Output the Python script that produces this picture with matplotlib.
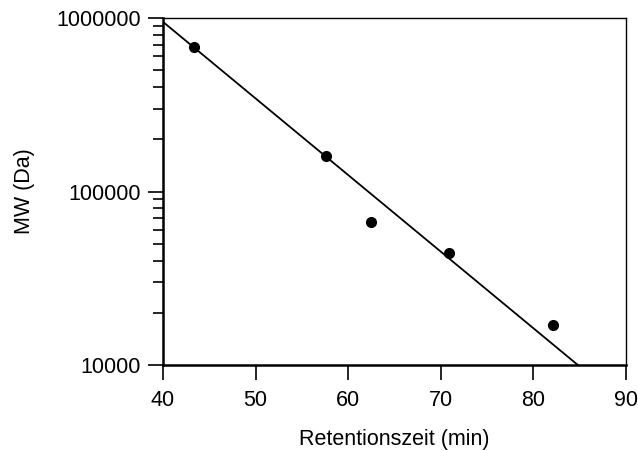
import matplotlib
matplotlib.use('Agg')
import matplotlib.pyplot as plt
from matplotlib.ticker import FixedLocator, LogLocator, NullFormatter
import numpy as np

plt.rcParams['font.family'] = ['Liberation Sans', 'DejaVu Sans']
plt.rcParams['font.size'] = 15.5

# Messpunkte (Kalibrierung)
retention = [43.3, 57.6, 62.5, 70.9, 82.1]
mw = [680000, 160000, 67000, 44000, 17000]

# Regressionsgerade (Endpunkte)
fit_x = [40, 84.8]
fit_y = [950000, 10000]

x_ticks = [40, 50, 60, 70, 80, 90]
y_ticks = [10000, 100000, 1000000]
y_ticklabels = ['10000', '100000', '1000000']

fig = plt.figure(figsize=(6.38, 4.5), dpi=100)
ax = fig.add_axes([163/638, 1 - 365/450, (626 - 163)/638, (365 - 18)/450])

ax.plot(fit_x, fit_y, color='black', lw=1.3)
ax.plot(retention, mw, 'o', color='black', ms=7)

ax.set_yscale('log')
ax.set_xlim(40, 90)
ax.set_ylim(10000, 1000000)
ax.set_xticks(x_ticks)
ax.yaxis.set_major_locator(FixedLocator(y_ticks))
ax.set_yticklabels(y_ticklabels)
ax.yaxis.set_minor_locator(LogLocator(base=10, subs=np.arange(2, 10)))
ax.yaxis.set_minor_formatter(NullFormatter())

ax.tick_params(axis='both', which='major', direction='out', length=11, width=1.2, labelsize=15.5, pad=5)
ax.tick_params(axis='x', which='major', pad=7)
ax.tick_params(axis='y', which='minor', direction='out', length=7.5, width=1.2)
ax.tick_params(top=False, right=False)

ax.spines['left'].set_linewidth(1.8)
ax.spines['bottom'].set_linewidth(1.8)
ax.spines['top'].set_linewidth(1.0)
ax.spines['right'].set_linewidth(1.0)

ax.set_xlabel('Retentionszeit (min)', fontsize=15.5, labelpad=13)
ax.set_ylabel('MW (Da)', fontsize=15.5, labelpad=15)

fig.savefig('out.png', dpi=100)
